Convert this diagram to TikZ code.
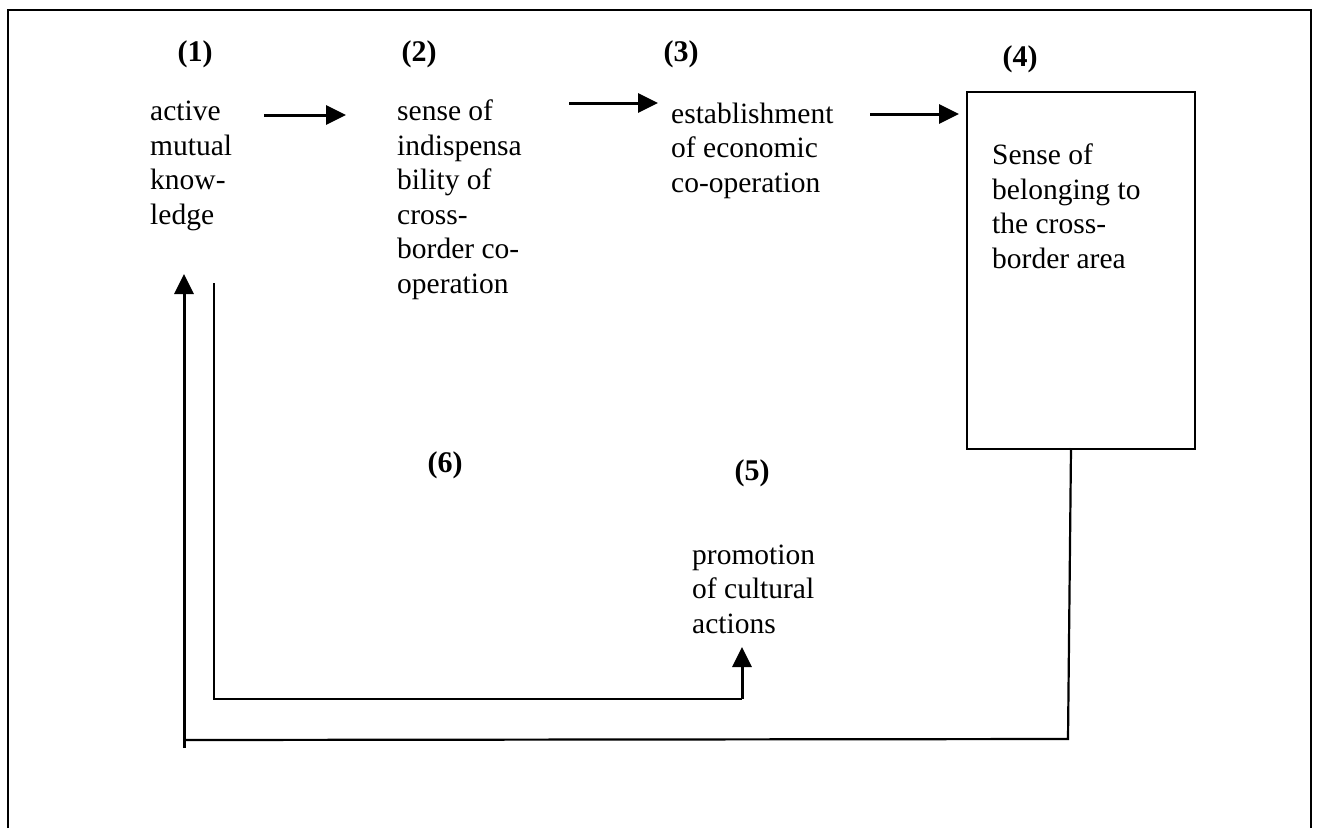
\documentclass[tikz,border=0pt]{standalone}
\usepackage{fontspec}
\setmainfont{Liberation Serif}
\usetikzlibrary{arrows.meta}
\tikzset{
  txt/.style={inner sep=0pt, anchor=base west, align=left, font=\fontsize{29.5}{34.5}\selectfont},
  num/.style={inner sep=0pt, anchor=base, font=\fontsize{30}{34}\selectfont\bfseries},
  flow/.style={line width=3pt, -{Triangle[length=20pt,width=19pt]}},
  link/.style={line width=2.2pt},
}
\begin{document}
\begin{tikzpicture}[x=1pt,y=-1pt]
\useasboundingbox (0,0) rectangle (1317,828);
\draw[line width=2pt] (8,828) -- (8,10) -- (1311,10) -- (1311,828);

% numbers
\node[num] (n1) at (195,61) {(1)};
\node[num] (n2) at (419,61) {(2)};
\node[num] (n3) at (681,61) {(3)};
\node[num] (n4) at (1020,66) {(4)};
\node[num] (n6) at (445,472) {(6)};
\node[num] (n5) at (752,480) {(5)};

% texts (anchored at the baseline of their last line)
\node[txt] (t1) at (150,224) {active\\mutual\\know-\\ledge};
\node[txt] (t2) at (397,293) {sense of\\indispensa\\bility of\\cross-\\border co-\\operation};
\node[txt] (t3) at (671,192) {establishment\\of economic\\co-operation};
\node[draw, line width=2pt, minimum width=228pt, minimum height=357pt, anchor=north west, inner sep=0pt] (b4) at (966,91) {};
\node[txt] (t4) at (992,268) {Sense of\\belonging to\\the cross-\\border area};
\node[txt] (t5) at (692,633) {promotion\\of cultural\\actions};

% coordinates
\coordinate (a1s) at (264,115);
\coordinate (a1e) at (346,115);
\coordinate (a2s) at (569,103);
\coordinate (a2e) at (658,103);
\coordinate (a3s) at (870,114);
\coordinate (a3e) at (959,114);
\coordinate (p1) at (214,283);
\coordinate (p2) at (214,699);
\coordinate (p3) at (742,699);
\coordinate (p4) at (742,647);
\coordinate (q1) at (1071,448);
\coordinate (q2) at (1068,739);
\coordinate (q3) at (184,740);
\coordinate (q4) at (184,748);
\coordinate (q5) at (184,274);

\draw[flow] (a1s) -- (a1e);
\draw[flow] (a2s) -- (a2e);
\draw[flow] (a3s) -- (a3e);
\draw[link] (p1) -- (p2) -- (p3);
\draw[flow] (p3) -- (p4);
\draw[link] (q1) -- (q2) -- (q3);
\draw[flow] (q4) -- (q5);
\end{tikzpicture}
\end{document}
